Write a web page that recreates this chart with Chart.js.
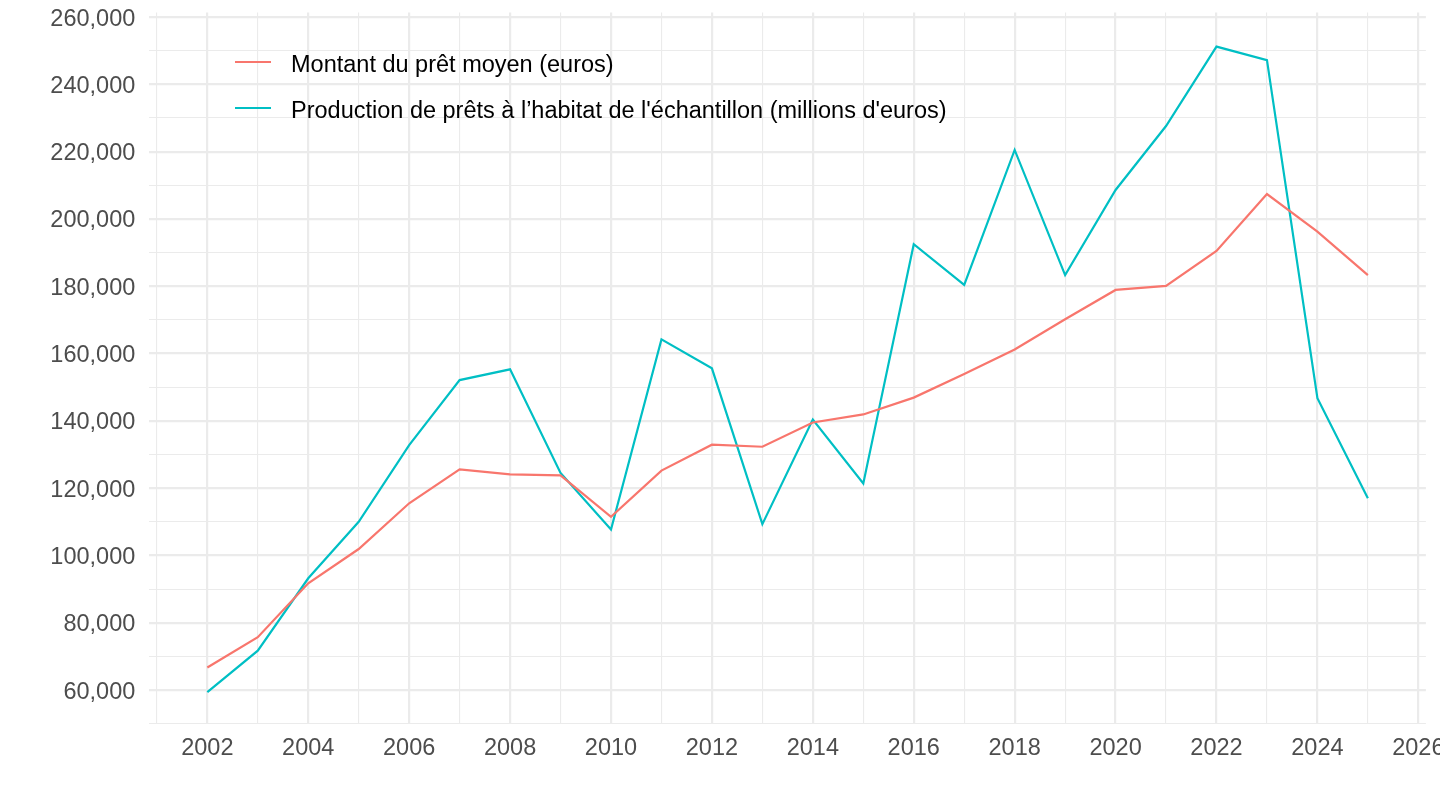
<!DOCTYPE html>
<html>
<head>
<meta charset="utf-8">
<script src="https://cdn.jsdelivr.net/npm/chart.js@4.4.1/dist/chart.umd.min.js"></script>
<style>
  html, body { margin: 0; padding: 0; background: #ffffff; }
  #wrap { width: 1440px; height: 810px; position: relative; }
</style>
</head>
<body>
<div id="wrap"><canvas id="c" width="1440" height="810"></canvas></div>
<script>
// ---- Data ----
const years = [2002, 2003, 2004, 2005, 2006, 2007, 2008, 2009, 2010, 2011, 2012, 2013,
               2014, 2015, 2016, 2017, 2018, 2019, 2020, 2021, 2022, 2023, 2024, 2025];
const seriesNames = [
  "Montant du prêt moyen (euros)",
  "Production de prêts à l’habitat de l'échantillon (millions d'euros)"
];
const montantPretMoyen = [66700, 75700, 91700, 101900, 115500, 125600, 124100, 123800,
                          111500, 125200, 132900, 132300, 139500, 141900, 146900, 153900,
                          161200, 170200, 178900, 180100, 190500, 207400, 196200, 183300];
const productionPrets = [59400, 71700, 93200, 110000, 132800, 152100, 155300, 124500,
                         107700, 164200, 155600, 109300, 140400, 121400, 192500, 180400,
                         220500, 183300, 208600, 227600, 251200, 247200, 146700, 117000];
const xTickValues = [2001, 2002, 2003, 2004, 2005, 2006, 2007, 2008, 2009, 2010, 2011, 2012, 2013,
                     2014, 2015, 2016, 2017, 2018, 2019, 2020, 2021, 2022, 2023, 2024, 2025, 2026];
const yTickValues = [50000, 60000, 70000, 80000, 90000, 100000, 110000, 120000, 130000, 140000,
                     150000, 160000, 170000, 180000, 190000, 200000, 210000, 220000, 230000,
                     240000, 250000, 260000];
const seriesColors = ["#F8766D", "#00BFC4"];

const FONT = "'Liberation Sans', Arial, Helvetica, sans-serif";
const GRID = "#EBEBEB";

const toPoints = (vals) => vals.map((v, i) => ({ x: years[i], y: v }));

// In-panel legend (ggplot style), drawn from the dataset labels/colours
const insideLegend = {
  id: 'insideLegend',
  afterDatasetsDraw(chart) {
    const ctx = chart.ctx;
    ctx.save();
    const x0 = 235, len = 36, tx = 291;
    const rows = [62, 108];
    chart.data.datasets.forEach((ds, i) => {
      const y = rows[i];
      ctx.strokeStyle = ds.borderColor;
      ctx.lineWidth = 2.2;
      ctx.beginPath();
      ctx.moveTo(x0, y);
      ctx.lineTo(x0 + len, y);
      ctx.stroke();
      ctx.fillStyle = "#000000";
      ctx.font = "23.5px " + FONT;
      ctx.textBaseline = "alphabetic";
      ctx.textAlign = "left";
      ctx.fillText(ds.label, tx, y + 10);
    });
    ctx.restore();
  }
};

new Chart(document.getElementById('c'), {
  type: 'line',
  data: {
    datasets: [
      { label: seriesNames[0], data: toPoints(montantPretMoyen), borderColor: seriesColors[0],
        backgroundColor: seriesColors[0], borderWidth: 2.2, pointRadius: 0, tension: 0, fill: false },
      { label: seriesNames[1], data: toPoints(productionPrets), borderColor: seriesColors[1],
        backgroundColor: seriesColors[1], borderWidth: 2.2, pointRadius: 0, tension: 0, fill: false }
    ]
  },
  options: {
    responsive: false,
    animation: false,
    devicePixelRatio: 1,
    layout: { padding: { left: 0, right: 14.1, top: 12.6, bottom: 0 } },
    plugins: {
      legend: { display: false },
      tooltip: { enabled: false }
    },
    scales: {
      x: {
        type: 'linear',
        min: 2000.85,
        max: 2026.15,
        afterBuildTicks(scale) { scale.ticks = xTickValues.map(v => ({ value: v })); },
        afterFit(scale) { scale.height = 85.6; scale.paddingLeft = 0; scale.paddingRight = 0; },
        border: { display: false },
        grid: {
          drawTicks: false,
          color: GRID,
          lineWidth: (c) => (c.tick && c.tick.value % 2 === 0) ? 2.2 : 1.1
        },
        ticks: {
          autoSkip: false,
          maxRotation: 0,
          padding: 10,
          color: "#4D4D4D",
          font: { family: FONT, size: 23.5 },
          callback: (v) => (v % 2 === 0 ? String(v) : '')
        }
      },
      y: {
        type: 'linear',
        min: 49785,
        max: 261315,
        afterBuildTicks(scale) { scale.ticks = yTickValues.map(v => ({ value: v })); },
        afterFit(scale) { scale.width = 149.3; scale.paddingTop = 0; scale.paddingBottom = 0; },
        border: { display: false },
        grid: {
          drawTicks: false,
          color: GRID,
          lineWidth: (c) => (c.tick && c.tick.value % 20000 === 0) ? 2.2 : 1.1
        },
        ticks: {
          autoSkip: false,
          padding: 14,
          labelOffset: 2,
          color: "#4D4D4D",
          font: { family: FONT, size: 23.5 },
          callback: (v) => (v % 20000 === 0 ? v.toLocaleString('en-US') : '')
        }
      }
    }
  },
  plugins: [insideLegend]
});
</script>
</body>
</html>
